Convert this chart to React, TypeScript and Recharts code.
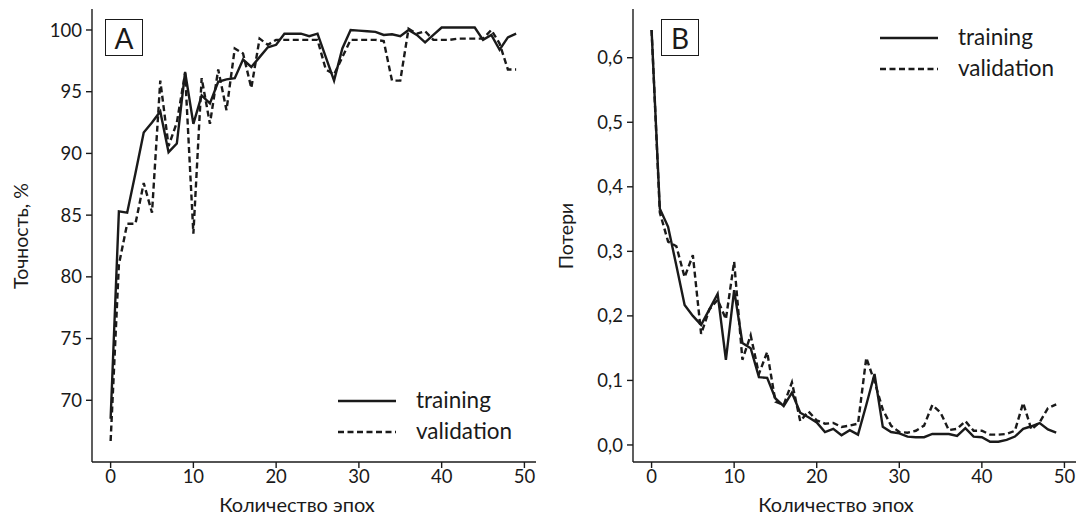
import React from 'react';
import { LineChart, Line, XAxis, YAxis } from 'recharts';

const FONT = "Lato, 'Noto Sans', 'DejaVu Sans', sans-serif";
const INK = '#1a1a1a';

const accTrain = [68.5, 85.3, 85.2, 88.4, 91.7, 92.5, 93.4, 90.1, 90.8, 96.6, 92.4, 94.7, 94.05, 95.8, 96.0, 96.1, 97.6, 97.0, 97.8, 98.6, 98.8, 99.7, 99.7, 99.7, 99.5, 99.7, 97.8, 95.9, 98.5, 100.0, 99.95, 99.9, 99.85, 99.6, 99.65, 99.5, 100.0, 99.6, 99.0, 99.6, 100.2, 100.2, 100.2, 100.2, 100.2, 99.2, 99.6, 98.4, 99.4, 99.7];
const accVal = [66.7, 81.0, 84.3, 84.3, 87.6, 85.2, 95.9, 90.6, 92.5, 96.5, 83.5, 96.1, 92.4, 96.8, 93.5, 98.5, 98.1, 95.3, 99.3, 98.8, 99.2, 99.2, 99.2, 99.2, 99.2, 99.2, 96.8, 96.4, 97.8, 99.2, 99.2, 99.2, 99.2, 99.1, 95.9, 95.9, 100.1, 99.7, 99.9, 99.2, 99.2, 99.2, 99.3, 99.3, 99.3, 99.3, 100.0, 98.9, 96.8, 96.8];
const lossTrain = [0.643, 0.366, 0.338, 0.278, 0.217, 0.2, 0.186, 0.21, 0.234, 0.132, 0.24, 0.158, 0.15, 0.105, 0.104, 0.072, 0.06, 0.081, 0.05, 0.043, 0.035, 0.02, 0.025, 0.015, 0.023, 0.016, 0.062, 0.11, 0.028, 0.02, 0.018, 0.013, 0.012, 0.012, 0.017, 0.017, 0.017, 0.014, 0.026, 0.013, 0.012, 0.005, 0.005, 0.008, 0.013, 0.025, 0.029, 0.034, 0.024, 0.019];
const lossVal = [0.643, 0.36, 0.315, 0.308, 0.26, 0.294, 0.172, 0.21, 0.225, 0.195, 0.284, 0.132, 0.17, 0.11, 0.144, 0.067, 0.062, 0.097, 0.037, 0.052, 0.038, 0.033, 0.034, 0.028, 0.03, 0.033, 0.135, 0.098, 0.055, 0.03, 0.02, 0.019, 0.022, 0.03, 0.062, 0.05, 0.023, 0.025, 0.037, 0.022, 0.022, 0.016, 0.016, 0.017, 0.022, 0.065, 0.024, 0.035, 0.057, 0.063];

const xTicks = [0, 10, 20, 30, 40, 50];
const accTicks = [70, 75, 80, 85, 90, 95, 100];
const lossTicks = [0, 0.1, 0.2, 0.3, 0.4, 0.5, 0.6];
const seriesNames = ['training', 'validation'];

const accData = accTrain.map((v, i) => ({ epoch: i, training: v, validation: accVal[i] }));
const lossData = lossTrain.map((v, i) => ({ epoch: i, training: v, validation: lossVal[i] }));

const tickStyle = { fontSize: 18.5, fill: INK, fontFamily: FONT };
const LW = 2.4;
const DASH = '6 3.5';

function VTitle({ cx, cy, text }: { cx: number; cy: number; text: string }) {
  return (
    <text x={cx} y={cy} transform={`rotate(-90 ${cx} ${cy})`} textAnchor="middle" dominantBaseline="central"
      fontSize={19.5} fill={INK} fontFamily={FONT}>{text}</text>
  );
}
function HTitle({ cx, cy, text }: { cx: number; cy: number; text: string }) {
  return (
    <text x={cx} y={cy} textAnchor="middle" dominantBaseline="central" fontSize={20} fill={INK} fontFamily={FONT}>{text}</text>
  );
}

function LegendBox({ left, top }: { left: number; top: number }) {
  return (
    <div style={{ position: 'absolute', left, top, fontFamily: FONT, fontSize: 22.5, color: INK }}>
      {seriesNames.map((name, i) => (
        <div key={name} style={{ display: 'flex', alignItems: 'center', height: 31 }}>
          <svg width={60} height={10} style={{ marginRight: 18, flex: 'none' }}>
            <line x1={0} y1={5} x2={58} y2={5} stroke={INK} strokeWidth={LW} strokeDasharray={i === 1 ? DASH : undefined} />
          </svg>
          <span style={{ lineHeight: 1 }}>{name}</span>
        </div>
      ))}
    </div>
  );
}

function PanelTag({ left, top, text }: { left: number; top: number; text: string }) {
  return (
    <div style={{ position: 'absolute', left, top, width: 38, height: 37, border: `1.3px solid ${INK}`, boxSizing: 'border-box',
      display: 'flex', alignItems: 'center', justifyContent: 'center', fontFamily: FONT, fontSize: 28, color: INK, lineHeight: 1 }}>
      {text}
    </div>
  );
}

function Panel({ data, yDomain, yTicks, yFmt, yTitle, yTitleX, xTitleX, width, yAxisWidth, rightMargin }: any) {
  return (
    <LineChart width={width} height={517} data={data} margin={{ top: 9, right: rightMargin, bottom: 0, left: 0 }}>
      <XAxis xAxisId="b" dataKey="epoch" type="number" domain={[-2.25, 51.4]} ticks={xTicks} allowDataOverflow
        height={55} tick={tickStyle} tickSize={6} tickMargin={2} stroke={INK} strokeWidth={1.4}
        label={{ content: () => <HTitle cx={xTitleX} cy={504} text="Количество эпох" /> }} />
      <XAxis xAxisId="t" dataKey="epoch" type="number" domain={[-2.25, 51.4]} orientation="top" height={0}
        tick={false} tickLine={false} stroke={INK} strokeWidth={1.4} allowDataOverflow />
      <YAxis yAxisId="l" type="number" domain={yDomain} ticks={yTicks} allowDataOverflow width={yAxisWidth}
        tick={tickStyle} tickFormatter={yFmt} tickSize={6} tickMargin={4} stroke={INK} strokeWidth={1.4}
        label={{ content: () => <VTitle cx={yTitleX} cy={236} text={yTitle} /> }} />
      <YAxis yAxisId="r" type="number" domain={yDomain} orientation="right" width={0} tick={false} tickLine={false}
        stroke={INK} strokeWidth={1.4} allowDataOverflow />
      <Line xAxisId="b" yAxisId="l" type="linear" dataKey="training" stroke={INK} strokeWidth={LW} dot={false} isAnimationActive={false} />
      <Line xAxisId="b" yAxisId="l" type="linear" dataKey="validation" stroke={INK} strokeWidth={LW} strokeDasharray={DASH} dot={false} isAnimationActive={false} />
    </LineChart>
  );
}

export default function App() {
  return (
    <div style={{ position: 'absolute', left: 0, top: 0, width: 1078, height: 517, background: '#fff' }}>
      <div style={{ position: 'absolute', left: 0, top: 0 }}>
        <Panel data={accData} yDomain={[65, 101.7]} yTicks={accTicks} yFmt={(v: number) => String(v)}
          yTitle="Точность, %" yTitleX={20} xTitleX={297} width={560} yAxisWidth={92} rightMargin={24} />
      </div>
      <div style={{ position: 'absolute', left: 540, top: 0 }}>
        <Panel data={lossData} yDomain={[-0.0264, 0.6755]} yTicks={lossTicks}
          yFmt={(v: number) => v.toFixed(1).replace('.', ',')}
          yTitle="Потери" yTitleX={25} xTitleX={296} width={538} yAxisWidth={93} rightMargin={2} />
      </div>
      <PanelTag left={105} top={19} text="A" />
      <PanelTag left={661} top={19} text="B" />
      <LegendBox left={338} top={385} />
      <LegendBox left={880} top={22} />
    </div>
  );
}
